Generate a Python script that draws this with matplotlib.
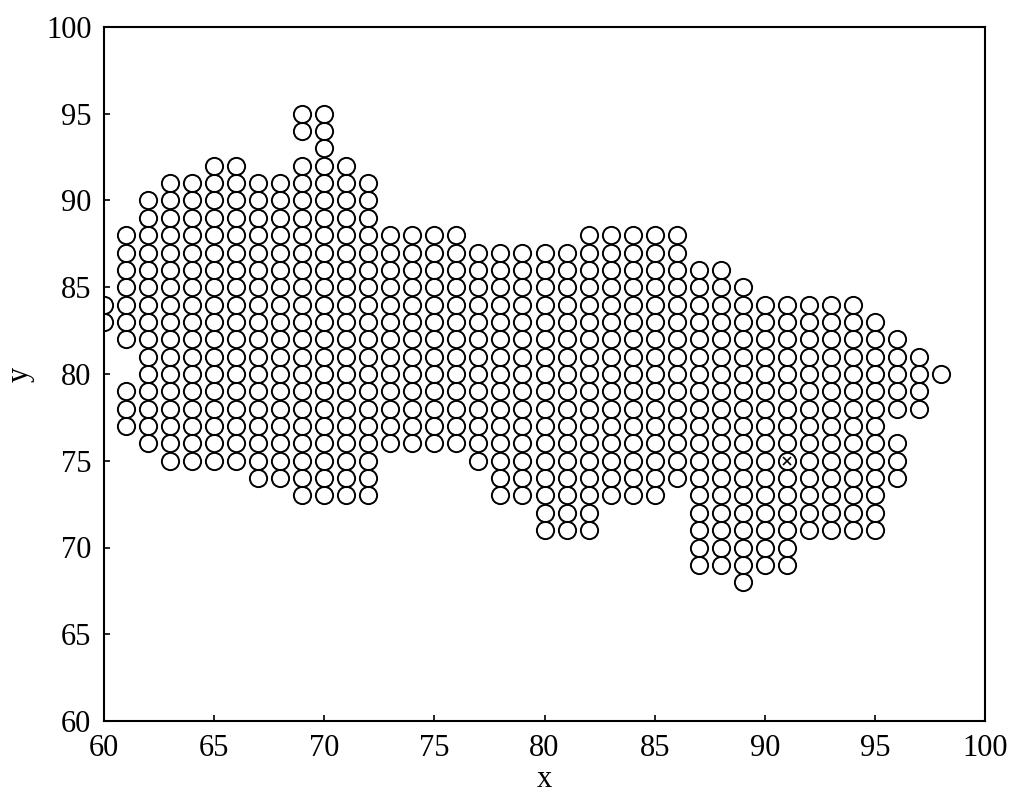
import numpy as np
import matplotlib
matplotlib.use('Agg')
import matplotlib.pyplot as plt

# grid columns: x value -> list of (bottom, top) runs of integer y values
x_cols = list(range(60, 99))
y_runs = [
    [(83, 84)],              # 60
    [(77, 79), (82, 88)],    # 61
    [(76, 90)],              # 62
    [(75, 91)],              # 63
    [(75, 91)],              # 64
    [(75, 92)],              # 65
    [(75, 92)],              # 66
    [(74, 91)],              # 67
    [(74, 91)],              # 68
    [(73, 92), (94, 95)],    # 69
    [(73, 95)],              # 70
    [(73, 92)],              # 71
    [(73, 91)],              # 72
    [(76, 88)],              # 73
    [(76, 88)],              # 74
    [(76, 88)],              # 75
    [(76, 88)],              # 76
    [(75, 87)],              # 77
    [(73, 87)],              # 78
    [(73, 87)],              # 79
    [(71, 87)],              # 80
    [(71, 87)],              # 81
    [(71, 88)],              # 82
    [(73, 88)],              # 83
    [(73, 88)],              # 84
    [(73, 88)],              # 85
    [(74, 88)],              # 86
    [(69, 86)],              # 87
    [(69, 86)],              # 88
    [(68, 85)],              # 89
    [(69, 84)],              # 90
    [(69, 84)],              # 91
    [(71, 84)],              # 92
    [(71, 84)],              # 93
    [(71, 84)],              # 94
    [(71, 83)],              # 95
    [(74, 76), (78, 82)],    # 96
    [(78, 81)],              # 97
    [(80, 80)],              # 98
]
special_x = [91]
special_y = [75]

xs, ys = [], []
for xc, runs in zip(x_cols, y_runs):
    for lo, hi in runs:
        for yv in range(lo, hi + 1):
            xs.append(xc)
            ys.append(yv)

plt.rcParams['font.family'] = ['Liberation Serif', 'DejaVu Serif']

fig = plt.figure(figsize=(10.15, 8.01), dpi=100)
ax = fig.add_axes([104 / 1015, 80 / 801, 881 / 1015, 694 / 801])

ax.plot(xs, ys, linestyle='none', marker='o', markersize=12.4,
        markerfacecolor='none', markeredgecolor='black', markeredgewidth=1.4)
ax.plot(special_x, special_y, linestyle='none', marker='x', markersize=6,
        color='black', markeredgewidth=1.2)

ax.set_xlim(60, 100)
ax.set_ylim(60, 100)
ax.set_xticks(np.arange(60, 101, 5))
ax.set_yticks(np.arange(60, 101, 5))
ax.tick_params(direction='in', length=4, width=1.2, labelsize=22, pad=9,
               top=False, right=False)
for s in ax.spines.values():
    s.set_linewidth(1.5)

ax.set_xlabel('x', fontsize=22, labelpad=2)
ax.set_ylabel('y', fontsize=22, labelpad=8)

fig.savefig('out.png', dpi=100)
